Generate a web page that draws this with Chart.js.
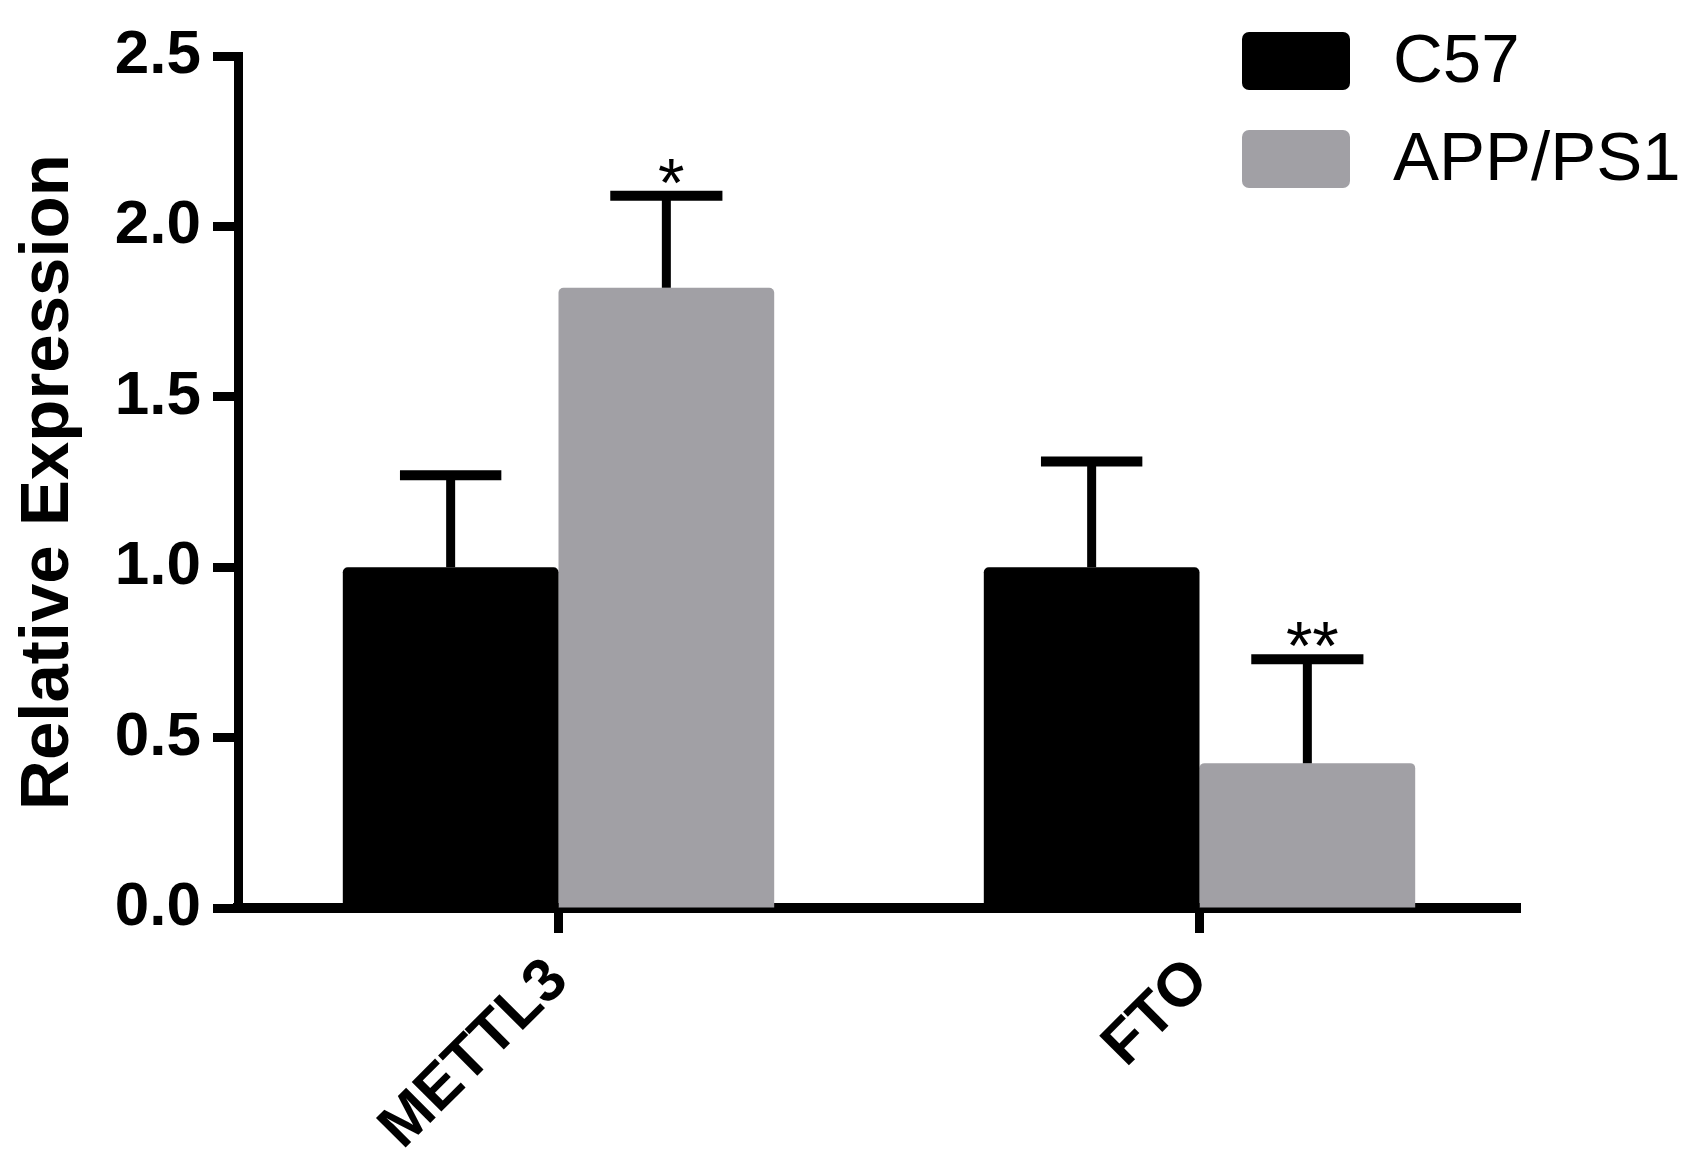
<!DOCTYPE html>
<html>
<head>
<meta charset="utf-8">
<script src="https://cdn.jsdelivr.net/npm/chart.js@4.4.1/dist/chart.umd.min.js"></script>
<style>
  html, body { margin: 0; padding: 0; background: #ffffff; }
  #wrap { width: 1705px; height: 1173px; position: relative; }
</style>
</head>
<body>
<div id="wrap"><canvas id="c" width="1705" height="1173"></canvas></div>
<script>
// ---- data ----
const categories = ['METTL3', 'FTO'];
const seriesNames = ['C57', 'APP/PS1'];
const c57Values = [1.0, 1.0];
const appValues = [1.82, 0.425];
const c57Err = [0.27, 0.31];
const appErr = [0.27, 0.305];
const c57Sig = ['', ''];
const appSig = ['*', '**'];
const yTickValues = [0, 0.5, 1.0, 1.5, 2.0, 2.5];
const yTitle = 'Relative Expression';

const colC57 = '#000000';
const colAPP = '#a1a0a5';
const FONT = '"Liberation Sans", Arial, Helvetica, sans-serif';

const errorBarPlugin = {
  id: 'errorBars',
  afterDatasetsDraw(chart) {
    const ctx = chart.ctx;
    const yScale = chart.scales.y;
    chart.data.datasets.forEach((ds, di) => {
      const meta = chart.getDatasetMeta(di);
      meta.data.forEach((el, i) => {
        const v = ds.data[i];
        const e = ds.errors[i];
        const x = el.x;
        const yBar = yScale.getPixelForValue(v);
        const yTop = yScale.getPixelForValue(v + e);
        const capHalf = el.width * ds.capFrac / 2;
        ctx.save();
        ctx.strokeStyle = '#000';
        ctx.lineWidth = 9;
        ctx.lineCap = 'butt';
        ctx.beginPath();
        ctx.moveTo(x, yBar);
        ctx.lineTo(x, yTop);
        ctx.stroke();
        ctx.lineWidth = 10;
        ctx.beginPath();
        ctx.moveTo(x - capHalf, yTop);
        ctx.lineTo(x + capHalf, yTop);
        ctx.stroke();
        const s = ds.sig[i];
        if (s) {
          ctx.fillStyle = '#000';
          ctx.font = '68px ' + FONT;
          ctx.textAlign = 'center';
          ctx.textBaseline = 'alphabetic';
          ctx.fillText(s, x + 5, yTop + 10);
        }
        ctx.restore();
      });
    });
  }
};

const legendPlugin = {
  id: 'customLegend',
  afterDraw(chart) {
    const ctx = chart.ctx;
    const x0 = 1242, w = 108, h = 58;
    const ys = [32, 130];
    chart.data.datasets.forEach((ds, i) => {
      const y = ys[i];
      ctx.save();
      ctx.fillStyle = ds.backgroundColor;
      ctx.beginPath();
      if (ctx.roundRect) ctx.roundRect(x0, y, w, h, 7); else ctx.rect(x0, y, w, h);
      ctx.fill();
      ctx.fillStyle = '#000';
      ctx.font = '69px ' + FONT;
      ctx.textAlign = 'left';
      ctx.textBaseline = 'middle';
      ctx.fillText(ds.label, 1393, y + h / 2 + 2);
      ctx.restore();
    });
  }
};

new Chart(document.getElementById('c'), {
  type: 'bar',
  data: {
    labels: categories,
    datasets: [
      { label: seriesNames[0], data: c57Values, errors: c57Err, sig: c57Sig, capFrac: 0.47,
        backgroundColor: colC57, borderRadius: 5, borderSkipped: 'bottom' },
      { label: seriesNames[1], data: appValues, errors: appErr, sig: appSig, capFrac: 0.52,
        backgroundColor: colAPP, borderRadius: 5, borderSkipped: 'bottom' }
    ]
  },
  options: {
    responsive: false,
    animation: false,
    devicePixelRatio: 1,
    layout: { padding: { left: 0, top: 56, right: 185, bottom: 0 } },
    datasets: { bar: { categoryPercentage: 0.673, barPercentage: 1.0 } },
    plugins: { legend: { display: false }, tooltip: { enabled: false } },
    scales: {
      x: {
        type: 'category',
        offset: true,
        grid: { display: true, drawOnChartArea: false, offset: false,
                tickLength: 25, tickWidth: 9, tickColor: '#000', color: '#000' },
        border: { display: true, color: '#000', width: 10 },
        ticks: { color: '#000', font: { family: FONT, size: 61, weight: 'bold' },
                 minRotation: 45, maxRotation: 45, autoSkip: false, padding: 12 },
        afterFit(scale) { scale.height = 265; }
      },
      y: {
        min: 0, max: 2.5,
        afterBuildTicks(scale) { scale.ticks = yTickValues.map(v => ({ value: v })); },
        grid: { display: true, drawOnChartArea: false,
                tickLength: 25, tickWidth: 9, tickColor: '#000', color: '#000' },
        border: { display: true, color: '#000', width: 9 },
        ticks: { color: '#000', font: { family: FONT, size: 62, weight: 'bold' },
                 padding: 12, callback: v => Number(v).toFixed(1) },
        title: { display: true, text: yTitle, color: '#000',
                 font: { family: FONT, size: 69, weight: 'bold' },
                 padding: { top: 8, bottom: 0 } },
        afterFit(scale) { scale.width = 238; }
      }
    }
  },
  plugins: [errorBarPlugin, legendPlugin]
});
</script>
</body>
</html>
